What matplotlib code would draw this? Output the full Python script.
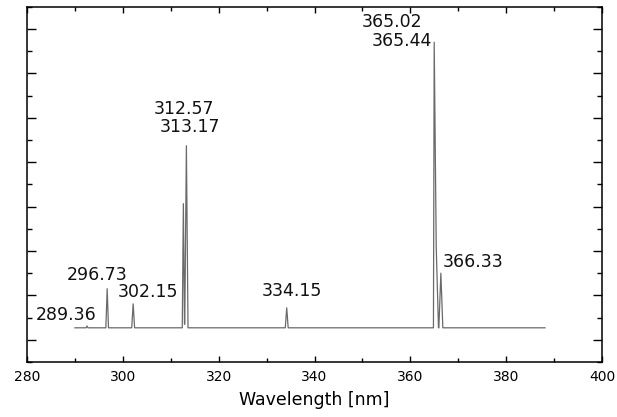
import matplotlib
matplotlib.use('Agg')
import matplotlib.pyplot as plt
from matplotlib.ticker import MultipleLocator, NullFormatter

# spectrum outline, vertices (nm, arb. units)
wavelength = [290.0, 292.3, 292.5, 292.7,
              296.45, 296.73, 297.0,
              301.85, 302.15, 302.45,
              312.4, 312.63, 312.86, 312.92, 313.26, 313.6,
              333.9, 334.2, 334.5,
              364.82, 364.98, 365.4, 365.87, 365.95, 366.37, 366.78,
              388.1]
intensity = [0.54, 0.54, 0.62, 0.54,
             0.54, 2.3, 0.54,
             0.54, 1.62, 0.54,
             0.54, 6.13, 0.7, 0.7, 8.74, 0.54,
             0.54, 1.44, 0.54,
             0.54, 13.4, 4.2, 0.54, 0.54, 3.0, 0.54,
             0.54]

# peak annotations: text and where it sits
peak_labels = ['289.36', '296.73', '302.15', '312.57', '313.17',
               '334.15', '365.02', '365.44', '366.33']
label_x = [288.1, 294.7, 305.15, 312.65, 314.0, 335.3, 356.2, 358.3, 373.1]
label_y = [1.13, 2.93, 2.14, 10.38, 9.59, 2.18, 14.3, 13.47, 3.51]

plt.rcParams['font.family'] = ['DejaVu Sans']

fig = plt.figure(figsize=(6.17, 4.17), dpi=100)
ax = fig.add_axes([0.0438, 0.1319, 0.9319, 0.852])

ax.plot(wavelength, intensity, color='#6a6a6a', lw=0.9)

for txt, x, y in zip(peak_labels, label_x, label_y):
    ax.text(x, y, txt, ha='center', va='center', fontsize=12.5, color='#111111')

ax.set_xlim(280, 400)
ax.set_ylim(-1, 15)
ax.xaxis.set_major_locator(MultipleLocator(20))
ax.xaxis.set_minor_locator(MultipleLocator(10))
ax.yaxis.set_major_locator(MultipleLocator(2))
ax.yaxis.set_minor_locator(MultipleLocator(1))
ax.yaxis.set_major_formatter(NullFormatter())

ax.tick_params(axis='x', which='major', direction='in', length=4.3, width=1.0,
               top=True, labelsize=10, pad=6)
ax.tick_params(axis='x', which='minor', direction='in', length=2.9, width=1.0, top=True)
ax.tick_params(axis='y', which='major', direction='in', length=6.5, width=1.0, right=True)
ax.tick_params(axis='y', which='minor', direction='in', length=3.6, width=1.0, right=True)
for s in ax.spines.values():
    s.set_linewidth(1.1)

ax.set_xlabel('Wavelength [nm]', fontsize=12.5, labelpad=5)

fig.savefig('out.png', dpi=100)
